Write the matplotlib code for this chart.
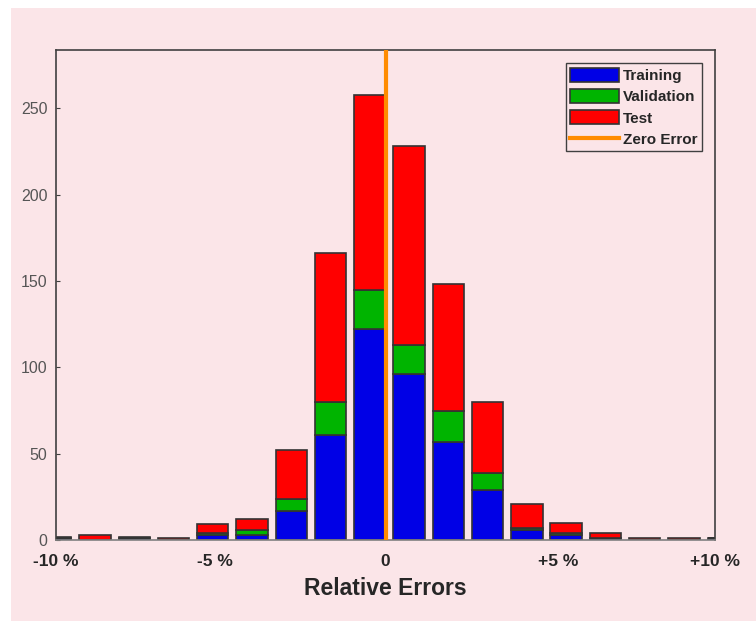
import numpy as np
import matplotlib
matplotlib.use("Agg")
import matplotlib.pyplot as plt
from matplotlib.patches import Rectangle

# error histogram, 18 bins (first and last partly cut by the axis limits)
bins = np.arange(18)
train = [1, 0, 1, 0, 3, 3, 17, 61, 122, 96, 57, 29, 6, 3, 1, 0, 0, 1]
val = [0, 0, 0, 0, 1, 3, 7, 19, 23, 17, 18, 10, 1, 1, 0, 0, 0, 0]
test = [1, 3, 1, 1, 5, 6, 28, 86, 113, 115, 73, 41, 14, 6, 3, 1, 1, 0]

tick_pos = [0, 4.06, 8.40, 12.79, 16.79]
tick_labels = ["-10 %", "-5 %", "0", "+5 %", "+10 %"]
zero_pos = 8.40

plt.rcParams['font.family'] = ['Liberation Sans', 'DejaVu Sans']
pink = '#fbe5e8'

fig = plt.figure(figsize=(7.56, 6.21), dpi=100)
fig.patch.set_facecolor('white')
fig.patches.append(Rectangle((11 / 756, 0), 1, (621 - 8) / 621, transform=fig.transFigure,
                             facecolor=pink, edgecolor='none', zorder=-10))

ax = fig.add_axes([0.0737, 0.1304, 0.8721, 0.7883])
ax.set_facecolor(pink)

edge = '#333333'
b1 = ax.bar(bins, train, width=0.8, color='#0000e6', edgecolor=edge, linewidth=1.2, label='Training')
b2 = ax.bar(bins, val, width=0.8, bottom=train, color='#00b400', edgecolor=edge, linewidth=1.2,
            label='Validation')
bottom2 = np.array(train) + np.array(val)
b3 = ax.bar(bins, test, width=0.8, bottom=bottom2, color='#ff0000', edgecolor=edge, linewidth=1.2,
            label='Test')
zl = ax.axvline(zero_pos, color='#ff8c00', linewidth=3, label='Zero Error', zorder=5)

ax.set_xlim(0, 16.79)
ax.set_ylim(0, 283.5)
ax.set_yticks([0, 50, 100, 150, 200, 250])
ax.set_xticks(tick_pos)
ax.set_xticklabels(tick_labels, fontsize=12.5, fontweight='bold', color='#262626')
ax.tick_params(axis='x', length=0, pad=10)
ax.tick_params(axis='y', direction='in', length=3, labelsize=11.5, labelcolor='#555555',
               color='#404040', pad=6)
for s in ['left', 'top', 'right']:
    ax.spines[s].set_color('#404040')
    ax.spines[s].set_linewidth(1.2)
ax.spines['bottom'].set_color('#808080')
ax.spines['bottom'].set_linewidth(1.2)

ax.set_xlabel("Relative Errors", fontsize=16.5, fontweight='bold', color='#262626', labelpad=6)

leg = ax.legend([b1, b2, b3, zl], ['Training', 'Validation', 'Test', 'Zero Error'],
                loc='upper right', bbox_to_anchor=(0.9805, 0.9735),
                prop={'weight': 'bold', 'size': 11}, frameon=True, fancybox=False,
                handlelength=3.15, handleheight=1.05, handletextpad=0.3, labelspacing=0.38,
                borderpad=0.3, borderaxespad=0)
leg.get_frame().set_facecolor(pink)
leg.get_frame().set_edgecolor('#404040')
leg.get_frame().set_linewidth(1.0)
leg.get_frame().set_alpha(1)
for t in leg.get_texts():
    t.set_color('#262626')

fig.savefig("out.png", dpi=100)
